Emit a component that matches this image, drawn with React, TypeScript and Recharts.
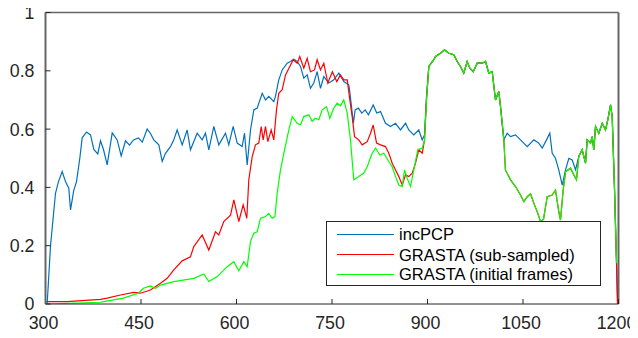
import React from 'react';
import { LineChart, Line, XAxis, YAxis, ReferenceLine } from 'recharts';

type P = [number, number];

const xTicks = [300, 450, 600, 750, 900, 1050, 1200];
const yTicks = [0, 0.2, 0.4, 0.6, 0.8, 1];
const seriesNames = ['incPCP', 'GRASTA (sub-sampled)', 'GRASTA (initial frames)'];

const incPCPHead: P[] = [
  [302.6, 0], [307.9, 0.2], [315.7, 0.38], [320.4, 0.42], [326.2, 0.454], [331.4, 0.42], [336.6, 0.397],
  [339.3, 0.323], [344.4, 0.39], [348.7, 0.42], [353.9, 0.5], [357.6, 0.57], [364.4, 0.59], [370.7, 0.58],
  [375.9, 0.53], [382.1, 0.515], [386.4, 0.56], [391.1, 0.53], [396.9, 0.477], [404.8, 0.587], [412.6, 0.563],
  [418.9, 0.508], [425.7, 0.56], [432, 0.545], [438.2, 0.563], [446, 0.57], [452, 0.555], [459.7, 0.6],
  [464.9, 0.585], [470.1, 0.563], [478, 0.546], [483.3, 0.489], [488.5, 0.517], [496.3, 0.54], [501.5, 0.563],
  [506.8, 0.597], [514.7, 0.546], [522.5, 0.597], [527.7, 0.529], [538.3, 0.586], [546.1, 0.563], [551.3, 0.586],
  [556.5, 0.529], [564.4, 0.609], [572.2, 0.546], [582.7, 0.586], [587.9, 0.546], [594.8, 0.609], [601.1, 0.552],
  [608.9, 0.54], [612.6, 0.586], [616.8, 0.477], [622, 0.597], [627.2, 0.666], [632.5, 0.672], [640.4, 0.723],
  [645.6, 0.7], [650.7, 0.712], [658.6, 0.694], [661.2, 0.712], [666.4, 0.769], [671.8, 0.803], [679.6, 0.826],
  [684.8, 0.832], [690, 0.84], [695.3, 0.832], [700.5, 0.815], [705.7, 0.775], [711, 0.786], [716.2, 0.74],
  [721.4, 0.758], [726.7, 0.797], [731.9, 0.74], [737.1, 0.78], [745, 0.758], [752.8, 0.769], [760.7, 0.792],
  [768.5, 0.763], [776.4, 0.752], [778.4, 0.72], [783.6, 0.62], [786.3, 0.666], [791.4, 0.672], [796.8, 0.655],
  [802.1, 0.666], [807.2, 0.649], [814.7, 0.683], [820.3, 0.655], [826.2, 0.66], [834, 0.62], [841.9, 0.609],
  [849.7, 0.62], [857.6, 0.597], [865.5, 0.62], [870.6, 0.597], [878.5, 0.58], [886.3, 0.597], [891.7, 0.563],
  [895.3, 0.58], [898.4, 0.712],
];

const subSampledHead: P[] = [
  [300.5, 0.008], [334, 0.008], [386.4, 0.016], [396.9, 0.02], [417.8, 0.031], [438.7, 0.04], [449.2, 0.037],
  [464.9, 0.048], [480.6, 0.071], [491.1, 0.088], [501.5, 0.117], [514.7, 0.148], [527.7, 0.162], [532.9, 0.197],
  [546.1, 0.237], [556.5, 0.185], [567, 0.248], [572.2, 0.237], [580, 0.283], [590.6, 0.305], [595.8, 0.357],
  [603.6, 0.283], [610.5, 0.34], [616.2, 0.294], [619.3, 0.426], [624.7, 0.506], [629.8, 0.546], [635, 0.552],
  [638.8, 0.609], [641.9, 0.563], [645.6, 0.609], [649.2, 0.557], [654.5, 0.597], [658.6, 0.563], [662.8, 0.666],
  [666.4, 0.723], [671.8, 0.735], [677, 0.786], [683.7, 0.815], [689.1, 0.838], [695.3, 0.826], [699.4, 0.849],
  [705.7, 0.809], [711, 0.843], [716.2, 0.797], [722.5, 0.803], [726.7, 0.838], [731.9, 0.803], [737.1, 0.826],
  [743.4, 0.758], [750.6, 0.797], [757.5, 0.763], [763.3, 0.786], [768.5, 0.769], [773.9, 0.769], [778, 0.7],
  [781.7, 0.643], [785.4, 0.574], [792.1, 0.563], [797.4, 0.546], [805.3, 0.557], [810.5, 0.586], [814.7, 0.614],
  [820, 0.552], [826.2, 0.546], [834, 0.54], [839.2, 0.517], [844.6, 0.483], [849.8, 0.46], [855, 0.437],
  [860.3, 0.408], [865.5, 0.443], [870.6, 0.437], [876, 0.449], [881.2, 0.483], [886.3, 0.529], [891.7, 0.517],
  [895.3, 0.563], [898.4, 0.7],
];

const initialFramesHead: P[] = [
  [302.6, 0], [386.4, 0.006], [391.3, 0.008], [422.3, 0.02], [445.8, 0.037], [453.7, 0.054], [464.9, 0.062],
  [472.8, 0.054], [480.6, 0.065], [501.5, 0.077], [532.9, 0.088], [548.6, 0.103], [556.5, 0.077], [569.7, 0.094],
  [585.4, 0.128], [595.8, 0.145], [603.6, 0.114], [611.5, 0.145], [616.8, 0.128], [622, 0.214], [627.2, 0.243],
  [632.5, 0.248], [637.7, 0.294], [645.6, 0.3], [650.7, 0.311], [656, 0.294], [660.4, 0.3], [663.9, 0.38],
  [669.1, 0.46], [674.3, 0.517], [682.2, 0.597], [687.5, 0.643], [695.3, 0.62], [700.5, 0.614], [705.7, 0.643],
  [713.6, 0.649], [718.9, 0.626], [723.4, 0.637], [729.3, 0.632], [734.6, 0.666], [741.4, 0.677], [746.6, 0.637],
  [752.8, 0.672], [758.1, 0.689], [763.3, 0.68], [768.5, 0.7], [773.9, 0.655], [779, 0.563], [784.2, 0.426],
  [792.1, 0.437], [800, 0.449], [805.3, 0.471], [813.1, 0.517], [818.4, 0.535], [825.1, 0.511], [831.4, 0.517],
  [839.2, 0.489], [844.6, 0.471], [849.8, 0.437], [855, 0.408], [860.3, 0.403], [863.9, 0.46], [868.1, 0.431],
  [873.3, 0.403], [878.5, 0.46], [884.8, 0.529], [891.7, 0.535], [895.3, 0.56], [898.4, 0.7],
];

const peakShared: P[] = [
  [902.1, 0.815], [909.9, 0.838], [912.6, 0.849], [920.4, 0.86], [926.7, 0.872], [933.5, 0.86], [941.3, 0.855],
  [946.6, 0.832], [951.8, 0.815], [957, 0.792], [962.3, 0.832], [966.5, 0.809], [971.8, 0.797], [978.1, 0.826],
  [986, 0.826], [991.1, 0.832], [996.3, 0.792], [1001.6, 0.797], [1006.8, 0.7], [1012, 0.729], [1014.7, 0.677],
  [1019.9, 0.563],
];

const incPCPTail: P[] = [
  [1025.2, 0.586], [1030.4, 0.574], [1038.2, 0.58], [1046.1, 0.563], [1056.6, 0.54], [1067, 0.563],
  [1074.8, 0.552], [1080.2, 0.535], [1086.9, 0.563], [1092.1, 0.586], [1095.9, 0.517], [1101, 0.5],
  [1106.2, 0.46], [1111.6, 0.408], [1116.8, 0.46], [1122, 0.5], [1127.3, 0.494], [1132.5, 0.46], [1137.6, 0.506],
];

const grastaTail: P[] = [
  [1022.4, 0.46], [1030.4, 0.426], [1038.2, 0.403], [1046.1, 0.374], [1051.3, 0.351], [1056.6, 0.368],
  [1061.8, 0.378], [1067, 0.346], [1072.3, 0.317], [1077.5, 0.283], [1082.2, 0.29], [1088, 0.368],
  [1095.9, 0.374], [1101, 0.391], [1106.2, 0.317], [1108.9, 0.288], [1113.1, 0.391], [1116.8, 0.454],
  [1124.6, 0.466], [1129.8, 0.443], [1134, 0.426], [1137.6, 0.506],
];

const endShared: P[] = [
  [1142.9, 0.529], [1148.2, 0.483], [1150.8, 0.563], [1156, 0.552], [1158.7, 0.574], [1161.2, 0.529],
  [1163.9, 0.609], [1169.1, 0.586], [1174.5, 0.62], [1179.6, 0.597], [1183.2, 0.632], [1187.5, 0.683],
  [1190.1, 0.643], [1193.8, 0.39], [1196.9, 0.14],
];

const incPCPLast: P[] = [[1198.5, 0]];
const subSampledLast: P[] = [[1198.5, 0]];

const toRows = (pts: P[]) => pts.map(([x, y]) => ({ x, y }));

const incPCPData = toRows([...incPCPHead, ...peakShared, ...incPCPTail, ...endShared, ...incPCPLast]);
const subSampledData = toRows([...subSampledHead, ...peakShared, ...grastaTail, ...endShared, ...subSampledLast]);
const initialFramesData = toRows([...initialFramesHead, ...peakShared, ...grastaTail, ...endShared]);

const COLORS = ['#0072BD', '#FF0000', '#00FF00'];
const FONT = 'Liberation Sans';
const AXIS = '#262626';
const AXIS_GREY = '#666666';
const TICK_FONT_SIZE = 17.8;

const fmtY = (v: number) => (v === 0 || v === 1 ? String(v) : v.toFixed(1));

const XTick = (props: any) => {
  const { x, y, payload } = props;
  return (
    <text x={x} y={y} dx={-2} dy="0.71em" textAnchor="middle" fill={AXIS}
      style={{ fontFamily: FONT, fontSize: TICK_FONT_SIZE }}>
      {String(payload.value)}
    </text>
  );
};

const YTick = (props: any) => {
  const { x, y, payload } = props;
  return (
    <text x={x} y={y} dy="0.36em" textAnchor="end" fill={AXIS}
      style={{ fontFamily: FONT, fontSize: TICK_FONT_SIZE }}>
      {fmtY(payload.value)}
    </text>
  );
};

export default function App() {
  return (
    <div style={{ position: 'relative', width: 638, height: 338, margin: -8, fontFamily: FONT }}>
      <LineChart width={638} height={338} margin={{ top: 12.5, right: 19.5, bottom: 0, left: 0 }}
        style={{ overflow: 'visible', fontFamily: FONT }}>
        <XAxis
          xAxisId="b"
          dataKey="x"
          type="number"
          domain={[300, 1200]}
          ticks={xTicks}
          interval={0}
          allowDataOverflow
          orientation="bottom"
          height={34}
          tickSize={-5}
          tickMargin={17.5}
          axisLine={{ stroke: AXIS }}
          tickLine={{ stroke: AXIS }}
          tick={<XTick />}
        />
        <XAxis
          xAxisId="t"
          dataKey="x"
          type="number"
          domain={[300, 1200]}
          ticks={xTicks}
          interval={0}
          allowDataOverflow
          orientation="top"
          height={0}
          tickSize={-5}
          tick={false}
          axisLine={{ stroke: AXIS_GREY }}
          tickLine={{ stroke: AXIS }}
        />
        <YAxis
          yAxisId="l"
          type="number"
          domain={[0, 1]}
          ticks={yTicks}
          interval={0}
          allowDataOverflow
          width={45.5}
          tickSize={-5}
          tickMargin={16}
          axisLine={{ stroke: AXIS_GREY, strokeWidth: 2 }}
          tickLine={{ stroke: AXIS }}
          tick={<YTick />}
        />
        <YAxis
          yAxisId="r"
          type="number"
          orientation="right"
          domain={[0, 1]}
          ticks={yTicks}
          interval={0}
          allowDataOverflow
          width={0}
          tickSize={-5}
          tick={false}
          axisLine={{ stroke: AXIS_GREY, strokeWidth: 2 }}
          tickLine={{ stroke: AXIS }}
        />
        <ReferenceLine xAxisId="b" yAxisId="l" y={1} stroke={AXIS_GREY} strokeWidth={1.3} ifOverflow="visible" />
        <ReferenceLine xAxisId="b" yAxisId="l" x={1200} stroke={AXIS_GREY} strokeWidth={2} ifOverflow="visible" />
        <Line xAxisId="t" yAxisId="r" data={incPCPData} dataKey="y" type="linear" legendType="none"
          stroke="none" strokeOpacity={0} dot={false} activeDot={false} isAnimationActive={false} />
        <Line xAxisId="b" yAxisId="l" data={incPCPData} dataKey="y" name={seriesNames[0]} type="linear"
          stroke={COLORS[0]} strokeWidth={1.2} dot={false} isAnimationActive={false} />
        <Line xAxisId="b" yAxisId="l" data={subSampledData} dataKey="y" name={seriesNames[1]} type="linear"
          stroke={COLORS[1]} strokeWidth={1.2} dot={false} isAnimationActive={false} />
        <Line xAxisId="b" yAxisId="l" data={initialFramesData} dataKey="y" name={seriesNames[2]} type="linear"
          stroke={COLORS[2]} strokeWidth={1.2} dot={false} isAnimationActive={false} />
      </LineChart>
      <div
        style={{
          position: 'absolute', left: 326, top: 221, width: 273, height: 63,
          border: `1px solid ${AXIS}`, background: '#fff', boxSizing: 'content-box',
        }}
      >
        {seriesNames.map((name, i) => (
          <div key={name} style={{ position: 'absolute', left: 0, top: [12, 32.5, 52][i] - 10, height: 20, width: 273 }}>
            <div style={{ position: 'absolute', left: 10, top: 9.5, width: 57, height: 1.2, background: COLORS[i] }} />
            <div style={{
              position: 'absolute', left: 72, top: 0, height: 20, lineHeight: '20px',
              fontSize: 16.5, color: '#000', whiteSpace: 'nowrap', fontFamily: FONT,
            }}>{name}</div>
          </div>
        ))}
      </div>
    </div>
  );
}
